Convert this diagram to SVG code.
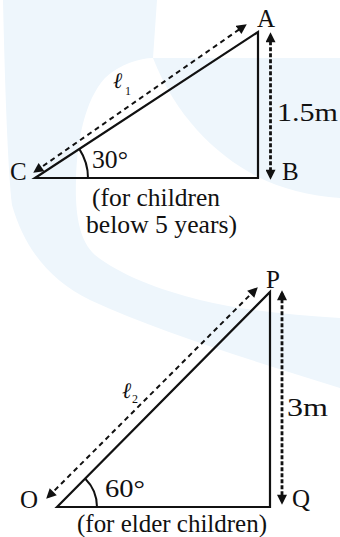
<svg xmlns="http://www.w3.org/2000/svg" width="340" height="537" viewBox="0 0 340 537">
<defs>
<marker id="ah" viewBox="0 0 10 10" refX="7" refY="5" markerUnits="userSpaceOnUse" markerWidth="11" markerHeight="10" orient="auto-start-reverse"><path d="M0,0 L10,5 L0,10 Z" fill="#111"/></marker>
</defs>
<style>
.wm{fill:#eef6fc}
.tri{fill:none;stroke:#111;stroke-width:2.2;stroke-linejoin:miter}
.diag{fill:none;stroke:#111;stroke-width:2;stroke-dasharray:5 4}
.vert{fill:none;stroke:#111;stroke-width:2.8;stroke-dasharray:4 2}
.arc{fill:none;stroke:#111;stroke-width:2}
.t{fill:#111;font-family:'Liberation Serif','Times New Roman',Times,'DejaVu Serif',serif;font-size:25px}
.ell{font-style:italic;font-size:22px}
.sb{font-size:12px}
</style>
<rect width="340" height="537" fill="#fff"/>
<g id="watermark">
<path class="wm" d="M3,0 C5,90 8,170 12,205 C25,250 50,280 90,300 C160,332 250,360 340,388 L340,318 C290,315 240,310 200,300 C160,290 120,275 95,255 C78,240 75,210 76,180 C77,140 85,100 105,78 C120,64 140,58 153,58 L157,0 Z"/>
<path class="wm" d="M153,58 L340,58 L340,198 C310,196 280,188 258,177 C215,155 175,115 153,58 Z"/>
</g>
<g id="triangle-ABC">
<path class="tri" d="M35,178 L258,32 L258,178 Z"/>
<path class="arc" d="M88,178 A53,53 0 0 0 79.4,149.1"/>
<text class="t" x="257" y="27">A</text>
<text class="t" x="282" y="180">B</text>
<text class="t" x="10" y="180">C</text>
<text class="t" x="92" y="168" textLength="36" lengthAdjust="spacingAndGlyphs">30°</text>
<text class="t" x="277" y="121" textLength="61" lengthAdjust="spacingAndGlyphs">1.5m</text>
<text class="t ell" x="113" y="88">ℓ</text><text class="t sb" x="125" y="95">1</text>
<text class="t" x="92" y="206" textLength="128" lengthAdjust="spacingAndGlyphs">(for children</text>
<text class="t" x="86" y="233" textLength="151" lengthAdjust="spacingAndGlyphs">below 5 years)</text>
</g>
<g id="triangle-OPQ">
<path class="tri" d="M57,507 L270,292 L270,507 Z"/>
<path class="arc" d="M97,507 A40,40 0 0 0 85.3,478.7"/>
<text class="t" x="266" y="288">P</text>
<text class="t" x="292" y="507">Q</text>
<text class="t" x="20" y="508">O</text>
<text class="t" x="105" y="497" textLength="40" lengthAdjust="spacingAndGlyphs">60°</text>
<text class="t" x="287" y="416" textLength="41" lengthAdjust="spacingAndGlyphs">3m</text>
<text class="t ell" x="122" y="398">ℓ</text><text class="t sb" x="132" y="403">2</text>
<text class="t" x="77" y="532" textLength="190" lengthAdjust="spacingAndGlyphs">(for elder children)</text>
</g>
<g id="connectors">
<path class="diag" d="M35.7,171.1 L244.3,25.9" marker-start="url(#ah)" marker-end="url(#ah)"/>
<path class="vert" d="M270.5,35.3 L270.5,176.7" marker-start="url(#ah)" marker-end="url(#ah)"/>
<path class="diag" d="M48.3,496.7 L255.7,289.3" marker-start="url(#ah)" marker-end="url(#ah)"/>
<path class="vert" d="M282,293.3 L282,501.7" marker-start="url(#ah)" marker-end="url(#ah)"/>
</g>
</svg>
